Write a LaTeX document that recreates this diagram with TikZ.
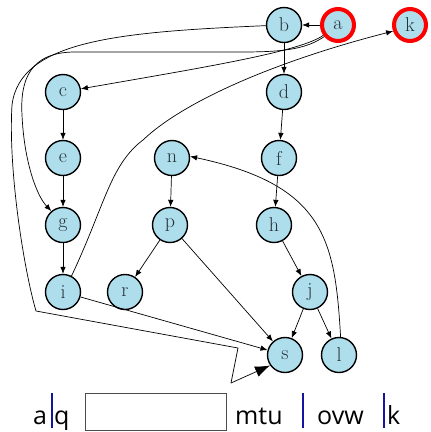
\documentclass[tikz,border=0pt]{standalone}
\usepackage{fontspec}
\setsansfont{Open Sans}
\usetikzlibrary{arrows.meta}
\definecolor{nodefill}{RGB}{174,222,236}
\definecolor{labelgray}{RGB}{40,48,56}
\definecolor{barblue}{RGB}{20,20,160}
\begin{document}
\begin{tikzpicture}[x=1pt,y=-1pt,
  vertex/.style={circle,draw=black,line width=1.4pt,fill=nodefill,
    minimum size=35pt,inner sep=0pt,text=labelgray,font=\fontsize{20}{20}\selectfont},
  marked/.style={vertex,draw=red,line width=4pt,minimum size=32pt},
  edge/.style={line width=0.7pt,-{Latex[length=7pt,width=5.5pt]}},
  bigedge/.style={line width=0.7pt,-{Latex[length=15pt,width=11pt]}},
  plain/.style={line width=0.7pt},
  caption/.style={anchor=base west,inner sep=0pt,font=\sffamily\fontsize{25}{25}\selectfont},
  separator/.style={draw=barblue,line width=1.6pt}]
\useasboundingbox (0,0) rectangle (431,432);

% vertices
\node[vertex] (b) at (284,25) {b};
\node[marked] (a) at (338,25) {a};
\node[marked] (k) at (410,25) {k};
\node[vertex] (c) at (63,92) {c};
\node[vertex] (d) at (284,92) {d};
\node[vertex] (e) at (63,158) {e};
\node[vertex] (n) at (172,158) {n};
\node[vertex] (f) at (279,158) {f};
\node[vertex] (g) at (63,225) {g};
\node[vertex] (p) at (170,225) {p};
\node[vertex] (h) at (274,225) {h};
\node[vertex] (i) at (63,292) {i};
\node[vertex] (r) at (125,292) {r};
\node[vertex] (j) at (310,292) {j};
\node[vertex] (s) at (285,355) {s};
\node[vertex] (l) at (339,355) {l};

% bends of the long routed edges
\coordinate (bl1) at (36,311);
\coordinate (bl2) at (238,348);
\coordinate (bl3) at (231,383);
\coordinate (ik) at (143,140);

% straight edges
\draw[edge] (a) -- (b);
\draw[edge] (b) -- (d);
\draw[edge] (d) -- (f);
\draw[edge] (f) -- (h);
\draw[edge] (h) -- (j);
\draw[edge] (j) -- (s);
\draw[edge] (j) -- (l);
\draw[edge] (c) -- (e);
\draw[edge] (e) -- (g);
\draw[edge] (g) -- (i);
\draw[edge] (n) -- (p);
\draw[edge] (p) -- (r);
\draw[edge] (p) -- (s);
\draw[edge] (i) -- (s);

% curved edges
\draw[edge] (a.215) .. controls (300,52) and (200,68) .. (c.10);
\draw[edge] (a.220) .. controls (305,50) and (280,52) .. (240,52)
  -- (75,52) .. controls (30,52) and (20,80) .. (22,115)
  .. controls (24,160) and (36,195) .. (g.130);
\draw[edge] (i.62) .. controls (105,205) and (110,165) .. (ik)
  .. controls (185,100) and (280,60) .. (k.200);
\draw[edge] (l.85) .. controls (335,240) and (325,185) .. (n.5);
\draw[plain] (b.182) .. controls (120,32) and (20,40) .. (12,105)
  .. controls (8,170) and (24,270) .. (bl1) -- (bl2) -- (bl3);
\draw[bigedge] (bl3) -- (s.215);

% label row
\node[caption] (ta) at (33,424) {a};
\node[caption] (tq) at (54,424) {q};
\node[draw=black!70,line width=0.8pt,minimum width=141pt,minimum height=37pt,
  inner sep=0pt] (box) at (155.5,411.5) {};
\node[caption] (mtu) at (235,424) {mtu};
\node[caption] (ovw) at (317,424) {ovw};
\node[caption] (tk) at (387,424) {k};
\coordinate (s1t) at (52,393); \coordinate (s1b) at (52,428);
\coordinate (s2t) at (303,393); \coordinate (s2b) at (303,428);
\coordinate (s3t) at (384,393); \coordinate (s3b) at (384,428);
\draw[separator] (s1t) -- (s1b);
\draw[separator] (s2t) -- (s2b);
\draw[separator] (s3t) -- (s3b);
\end{tikzpicture}
\end{document}
